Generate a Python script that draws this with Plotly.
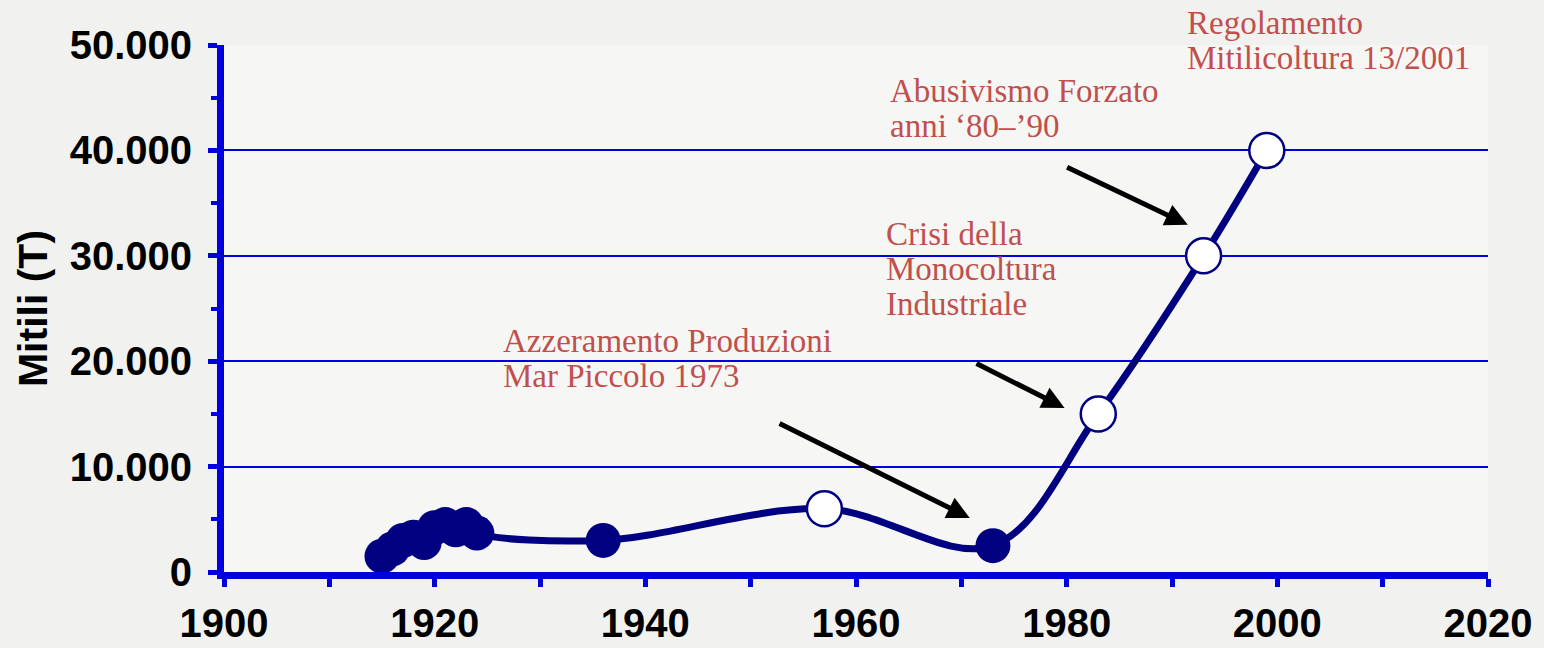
import plotly.graph_objects as go

# ---- data ----
years = [1915, 1916, 1917, 1918, 1919, 1920, 1921, 1922, 1923, 1924, 1936, 1957, 1973, 1983, 1993, 1999]
tons = [1500, 2200, 3000, 3300, 2800, 4200, 4500, 4000, 4500, 3700, 3000, 6000, 2500, 15000, 30000, 40000]
open_marker = [False] * 11 + [True, False, True, True, True]

note_lines = [
    ["Azzeramento Produzioni", "Mar Piccolo 1973"],
    ["Crisi della", "Monocoltura", "Industriale"],
    ["Abusivismo Forzato", "anni \u201880\u2013\u201990"],
    ["Regolamento", "Mitilicoltura 13/2001"],
]
note_x = [1926.3, 1962.7, 1963.0, 1991.2]
note_y = [23800, 34000, 47500, 54000]

arrow_tail_x = [1952.6, 1971.3, 1979.9]
arrow_tail_y = [14150, 19850, 38460]
arrow_head_x = [1970.8, 1979.8, 1991.5]
arrow_head_y = [5130, 15570, 32950]

y_title = "Mitili (T)"
y_max = 50000

# ---- styles ----
NAVY = "#000080"
BLUE = "#0000DD"
RED = "#C0504D"
TICKFONT = dict(family="Liberation Sans, Arial, sans-serif", size=40, color="black", weight="bold")

fy = [y for y, o in zip(years, open_marker) if not o]
ft = [t for t, o in zip(tons, open_marker) if not o]
oy = [y for y, o in zip(years, open_marker) if o]
ot = [t for t, o in zip(tons, open_marker) if o]

fig = go.Figure()
fig.add_trace(go.Scatter(x=years, y=tons, mode="lines",
                         line=dict(color=NAVY, width=7, shape="spline", smoothing=1.0),
                         hoverinfo="skip", showlegend=False, cliponaxis=False))
fig.add_trace(go.Scatter(x=fy, y=ft, mode="markers",
                         marker=dict(size=35, color=NAVY, line=dict(width=0)),
                         showlegend=False, cliponaxis=False))
fig.add_trace(go.Scatter(x=oy, y=ot, mode="markers",
                         marker=dict(size=35, color="white", line=dict(width=2.5, color=NAVY)),
                         showlegend=False, cliponaxis=False))

annotations = []
for lines, x0, y0 in zip(note_lines, note_x, note_y):
    for i, t in enumerate(lines):
        annotations.append(dict(x=x0, y=y0 / y_max, xref="x", yref="paper", text=t, showarrow=False,
                                xanchor="left", yanchor="top", yshift=-35 * i,
                                font=dict(family="Liberation Serif, Times New Roman, serif",
                                          size=33, color=RED)))
for tx, ty, hx, hy in zip(arrow_tail_x, arrow_tail_y, arrow_head_x, arrow_head_y):
    annotations.append(dict(x=hx, y=hy, ax=tx, ay=ty, xref="x", yref="y", axref="x", ayref="y",
                            text="", showarrow=True, arrowhead=2, arrowsize=0.9,
                            arrowwidth=5, arrowcolor="black", standoff=0))

fig.update_layout(
    width=1544, height=648,
    margin=dict(l=224, r=56, t=45, b=76, autoexpand=False),
    paper_bgcolor="#f1f1ef",
    plot_bgcolor="rgba(255,255,255,0.35)",
    separators=",.",
    annotations=annotations,
    xaxis=dict(range=[1900, 2020], dtick=20, tick0=1900, showgrid=False, zeroline=False,
               showline=True, linecolor=BLUE, linewidth=7, automargin=False,
               ticks="outside", ticklen=8, tickwidth=5, tickcolor=BLUE,
               minor=dict(dtick=10, ticks="outside", ticklen=8, tickwidth=5, tickcolor=BLUE, showgrid=False),
               tickfont=TICKFONT, ticklabelstandoff=2),
    yaxis=dict(range=[0, y_max], dtick=10000, tickformat=",", showgrid=True,
               gridcolor=BLUE, gridwidth=2, zeroline=False, automargin=False,
               showline=True, linecolor=BLUE, linewidth=7,
               ticks="outside", ticklen=9, tickwidth=5, tickcolor=BLUE,
               minor=dict(dtick=5000, ticks="outside", ticklen=6, tickwidth=4, tickcolor=BLUE, showgrid=False),
               tickfont=TICKFONT, ticklabelstandoff=8,
               title=dict(text=y_title, standoff=12,
                          font=dict(family="Liberation Sans, Arial, sans-serif", size=41,
                                    color="black", weight="bold"))),
)

fig.write_html("out.html", config={"displayModeBar": False},
               post_script="document.body.style.margin='0';")
